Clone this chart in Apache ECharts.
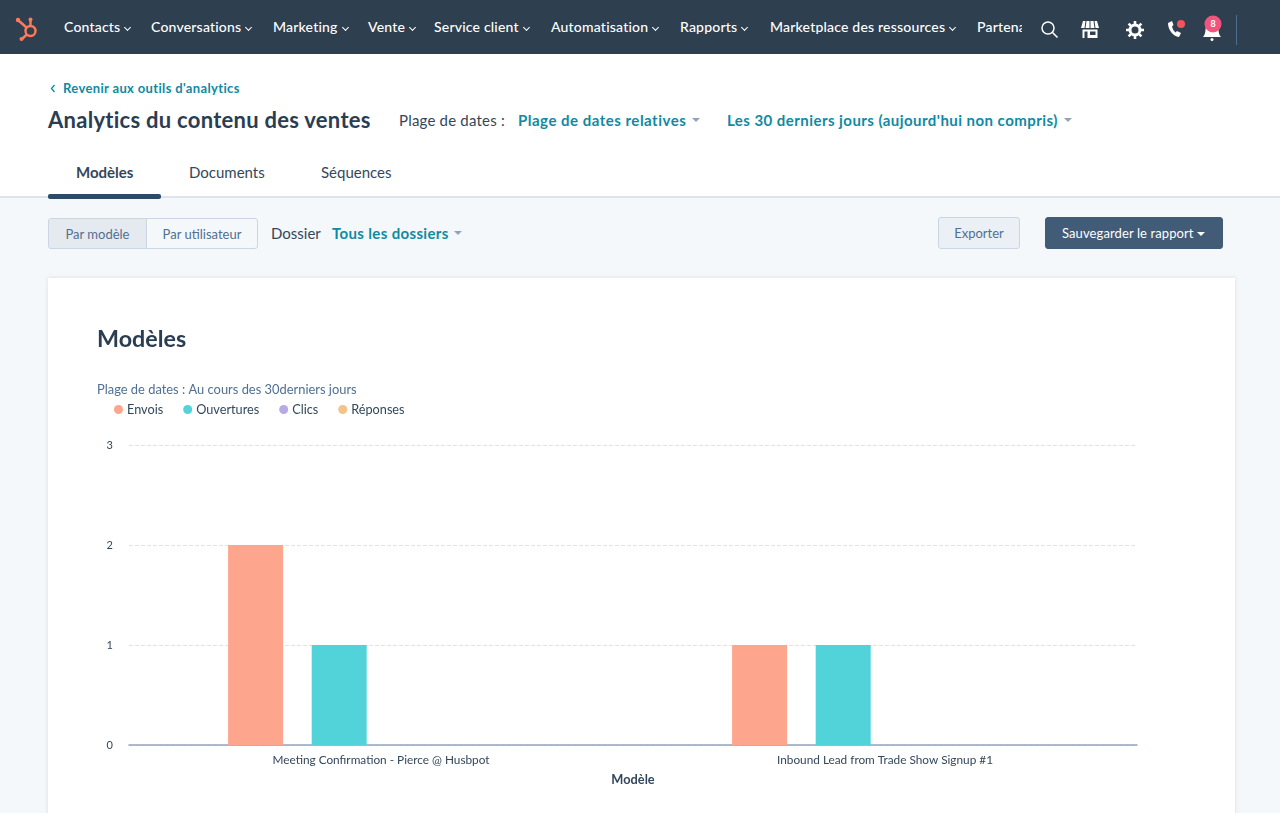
<!DOCTYPE html>
<html>
<head>
<meta charset="utf-8">
<script src="https://cdn.jsdelivr.net/npm/echarts@6/dist/echarts.min.js"></script>
<style>
html, body { margin: 0; padding: 0; width: 1280px; height: 813px; overflow: hidden; background: #f5f8fa; font-family: Lato, sans-serif; color: #33475b; }
.abs { position: absolute; white-space: nowrap; line-height: 1; }
#nav { position: absolute; left: 0; top: 0; width: 1280px; height: 54px; background: #2e3f50; }
#head { position: absolute; left: 0; top: 54px; width: 1280px; height: 142px; background: #fff; border-bottom: 2px solid #dfe3eb; }
.nav { color: #fff; font-size: 14px; font-weight: 500; top: 20px; letter-spacing: .2px; }
.link { color: #0f8aa3; font-weight: 700; }
.caret { position: absolute; width: 0; height: 0; border-left: 4px solid transparent; border-right: 4px solid transparent; border-top: 4px solid #8fa5bb; }
.chev { position: absolute; width: 4px; height: 4px; border-right: 1px solid #fff; border-bottom: 1px solid #fff; transform: rotate(45deg); top: 25px; }
.box { position: absolute; box-sizing: border-box; text-align: center; font-size: 13px; line-height: 30px; border: 1px solid #cbd6e2; }
#card { position: absolute; left: 48px; top: 278px; width: 1187px; height: 560px; background: #fff; box-shadow: 0 0 4px rgba(45,62,80,.14); }
#chart { position: absolute; left: 0; top: 0; width: 1187px; height: 535px; }
</style>
</head>
<body>
<div id="nav"></div>
<div id="head"></div>

<svg class="abs" style="left:14px;top:14px" width="28" height="28" viewBox="0 0 28 28">
  <g fill="none" stroke="#ff7a59" stroke-width="2.4">
    <circle cx="16.5" cy="17" r="5"/>
    <path d="M16.5 12V6M12.5 13.5L4.5 6.5M12.8 20.5L8 25"/>
  </g>
  <circle cx="16.5" cy="5.5" r="2" fill="#ff7a59"/><circle cx="4" cy="6" r="2.2" fill="#ff7a59"/><circle cx="7.5" cy="25" r="2" fill="#ff7a59"/>
</svg>

<div id="navItems"></div>

<svg class="abs" style="left:1040px;top:20px" width="20" height="20" viewBox="0 0 20 20"><circle cx="8" cy="8" r="6" fill="none" stroke="#fff" stroke-width="1.5"/><path d="M12.5 12.5L17.500 17.500" stroke="#fff" stroke-width="1.6"/></svg>
<svg class="abs" style="left:1080px;top:20px" width="20" height="19" viewBox="0 0 20 19"><path d="M3 1h14l2 7H1z" fill="#fff"/><path d="M6 1L5 8M10 1v7M14 1l1 7" stroke="#2e3f50" stroke-width="1"/><path d="M2.500 9.500h15V18h-15z" fill="#fff"/><path d="M4.500 11.500h3V18h-3zM10 11.500h5.500V15H10z" fill="#2e3f50"/></svg>
<svg class="abs" style="left:1126px;top:21px" width="18" height="18" viewBox="0 0 18 18"><circle cx="9" cy="9" r="5" fill="none" stroke="#fff" stroke-width="3"/><path d="M9 0v4M9 14v4M0 9h4M14 9h4M2.600 2.600l2.800 2.800M12.600 12.600l2.800 2.800M2.600 15.400l2.800-2.800M12.600 5.400l2.800-2.800" stroke="#fff" stroke-width="2.600"/></svg>
<svg class="abs" style="left:1166px;top:18px" width="22" height="20" viewBox="0 0 22 20"><path d="M2 5c0 7 5 13 11 14l2-4-4-2-1.500 1.500C8 13 6.500 11 6 8.500L7.500 7 6 3z" fill="#fff"/><circle cx="15" cy="6" r="4" fill="#f2545b"/></svg>
<svg class="abs" style="left:1198px;top:14px" width="28" height="28" viewBox="0 0 28 28"><path d="M5 23c3-3 2-7 3-10 1-3 3-5 6-5s5 2 6 5c1 3 0 7 3 10z" fill="#fff"/><circle cx="14" cy="25.500" r="1.500" fill="#fff"/><circle cx="15" cy="10" r="8.500" fill="#f2547d"/><text x="15" y="13" font-size="9" text-anchor="middle" fill="#fff" font-family="Lato" font-weight="700">8</text></svg>
<div class="abs" style="left:1236px;top:15px;width:1px;height:30px;background:#506e91"></div>

<svg class="abs" style="left:50px;top:84px" width="6" height="9" viewBox="0 0 6 9"><path d="M4.500 1L1.500 4.500L4.500 8" fill="none" stroke="#0f8aa3" stroke-width="1.300"/></svg>
<div class="abs link" style="left:63px;top:82px;font-size:13px;letter-spacing:.35px">Revenir aux outils d'analytics</div>
<div class="abs" style="left:48px;top:109px;font-size:22px;font-weight:700;color:#2a3d52;letter-spacing:.27px">Analytics du contenu des ventes</div>
<div class="abs" style="left:399px;top:113px;font-size:15px;letter-spacing:.2px">Plage de dates :</div>
<div class="abs link" style="left:518px;top:113px;font-size:15px;letter-spacing:.5px">Plage de dates relatives</div>
<div class="caret" style="left:692px;top:118px"></div>
<div class="abs link" style="left:727px;top:113px;font-size:15px;letter-spacing:.45px">Les 30 derniers jours (aujourd'hui non compris)</div>
<div class="caret" style="left:1064px;top:118px"></div>

<div class="abs" style="left:76px;top:165px;font-size:15px;font-weight:700">Modèles</div>
<div class="abs" style="left:189px;top:165px;font-size:15px">Documents</div>
<div class="abs" style="left:321px;top:165px;font-size:15px">Séquences</div>
<div class="abs" style="left:48px;top:194px;width:113px;height:5px;background:#2e4a64;border-radius:2px"></div>

<div class="box" style="left:48px;top:218px;width:99px;height:31px;background:#e5eaf1;color:#516f90;border-radius:3px 0 0 3px">Par modèle</div>
<div class="box" style="left:146px;top:218px;width:112px;height:31px;background:#f5f8fa;color:#516f90;border-radius:0 3px 3px 0">Par utilisateur</div>
<div class="abs" style="left:271px;top:226px;font-size:15px">Dossier</div>
<div class="abs link" style="left:332px;top:226px;font-size:15px;letter-spacing:.35px">Tous les dossiers</div>
<div class="caret" style="left:454px;top:231px"></div>
<div class="box" style="left:938px;top:217px;width:82px;height:32px;background:#eaf0f6;color:#516f90;border-radius:3px">Exporter</div>
<div class="box" style="left:1045px;top:217px;width:178px;height:32px;background:#425b76;border-color:#425b76;color:#fff;border-radius:3px;text-align:left;padding-left:16px;letter-spacing:.1px">Sauvegarder le rapport</div>
<div class="caret" style="left:1197px;top:232px;border-top-color:#fff"></div>

<div id="card"><div id="chart"></div></div>

<script>
var navLabels = ['Contacts', 'Conversations', 'Marketing', 'Vente', 'Service client', 'Automatisation', 'Rapports', 'Marketplace des ressources', 'Partenaires'];
var navLefts = [64, 151, 273, 368, 434, 551, 680, 770, 977];

var categories = ['Meeting Confirmation - Pierce @ Husbpot', 'Inbound Lead from Trade Show Signup #1'];
var envois = [2, 1];
var ouvertures = [1, 1];
var clics = [0, 0];
var reponses = [0, 0];
var yTicks = [0, 1, 2, 3];
var font = 'Lato, sans-serif';

var navHtml = '';
for (var i = 0; i < navLabels.length; i++) {
  // le dernier libellé est coupé par la barre d'icônes
  var clip = i == navLabels.length - 1 ? ';width:45px;overflow:hidden;height:16px' : '';
  navHtml += '<div class="abs nav" style="left:' + navLefts[i] + 'px' + clip + '">' + navLabels[i] + '</div>';
}
document.getElementById('navItems').innerHTML = navHtml;

// la position des chevrons suit la largeur du texte
var items = document.querySelectorAll('#navItems .nav');
for (var j = 0; j < items.length - 1; j++) {
  var c = document.createElement('div');
  c.className = 'chev';
  c.style.left = (items[j].offsetLeft + items[j].offsetWidth + 5) + 'px';
  document.getElementById('navItems').appendChild(c);
}

var chart = echarts.init(document.getElementById('chart'));
chart.setOption({
  animation: false,
  title: {
    text: 'Modèles',
    left: 49,
    top: 50,
    padding: 0,
    textStyle: { fontFamily: font, fontSize: 23.3, fontWeight: 700, color: '#2a3d52' },
    subtext: 'Plage de dates : Au cours des 30derniers jours',
    subtextStyle: { fontFamily: font, fontSize: 12.9, color: '#516f90' },
    itemGap: 32
  },
  legend: {
    left: 66,
    top: 125,
    padding: 0,
    icon: 'circle',
    itemWidth: 9,
    itemHeight: 9,
    itemGap: 20,
    textStyle: { fontFamily: font, fontSize: 12.7, color: '#33475b', padding: [0, 0, 0, -1] },
    data: ['Envois', 'Ouvertures', 'Clics', 'Réponses']
  },
  grid: { left: 81, right: 98, top: 167, height: 300 },
  xAxis: {
    type: 'category',
    data: categories,
    name: 'Modèle',
    nameLocation: 'middle',
    nameGap: 28,
    nameTextStyle: { fontFamily: font, fontSize: 12.8, fontWeight: 700, color: '#33475b' },
    axisTick: { show: false },
    axisLine: { lineStyle: { color: '#8ea6bf', width: 1.5 } },
    axisLabel: { fontFamily: font, fontSize: 11.8, color: '#33475b', margin: 9 }
  },
  yAxis: {
    type: 'value',
    min: yTicks[0],
    max: yTicks[yTicks.length - 1],
    interval: 1,
    axisLine: { show: false },
    axisTick: { show: false },
    axisLabel: { fontFamily: font, fontSize: 11, color: '#33475b', margin: 16 },
    splitLine: { lineStyle: { color: '#dfe3eb', type: 'dashed' } }
  },
  series: [
    { name: 'Envois', type: 'bar', data: envois, barWidth: 55, barGap: '52%', itemStyle: { color: '#fea58e' } },
    { name: 'Ouvertures', type: 'bar', data: ouvertures, barWidth: 55, itemStyle: { color: '#51d3d9' } },
    { name: 'Clics', type: 'bar', data: clics, barWidth: 55, itemStyle: { color: '#b9a9e6' } },
    { name: 'Réponses', type: 'bar', data: reponses, barWidth: 55, itemStyle: { color: '#f2c38a' } }
  ]
});
</script>
</body>
</html>
